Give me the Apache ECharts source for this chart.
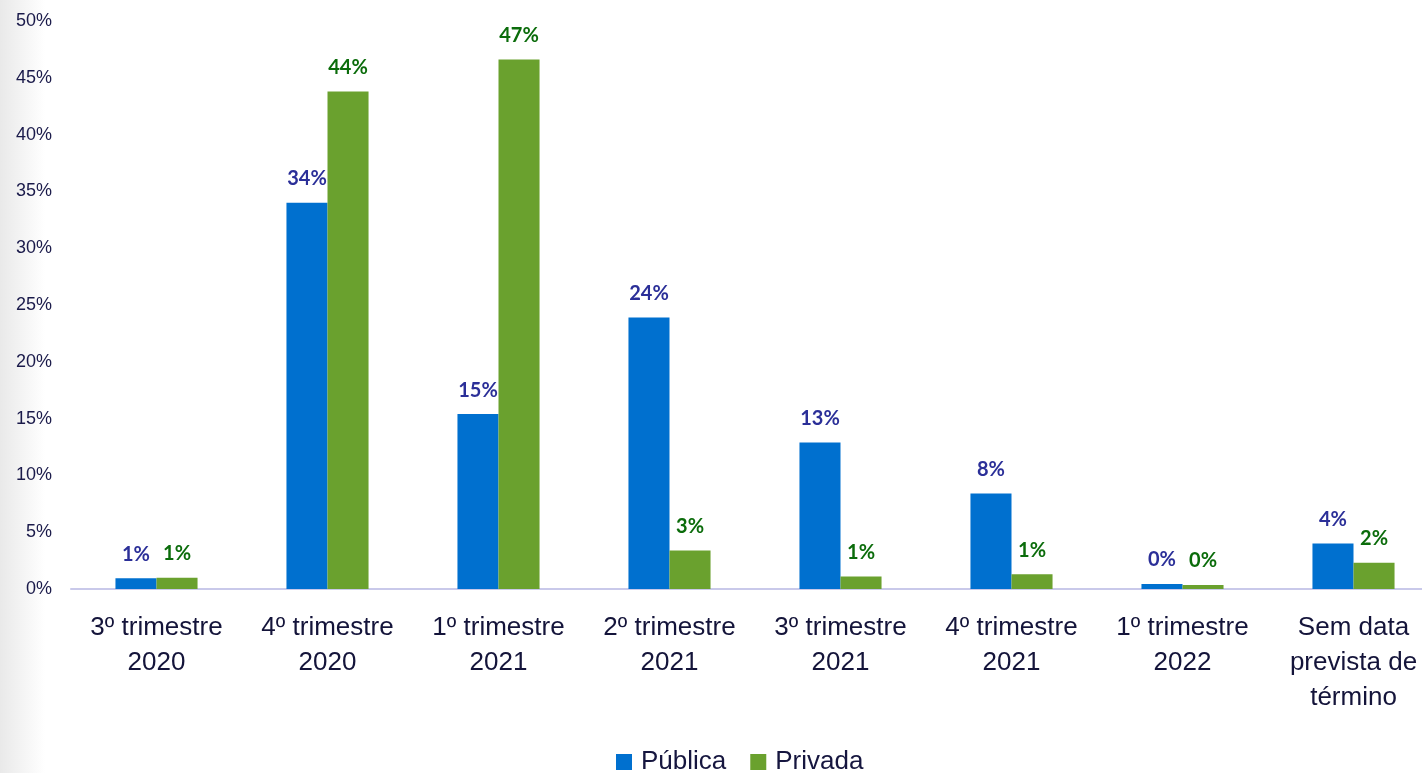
<!DOCTYPE html>
<html>
<head>
<meta charset="utf-8">
<script src="https://cdn.jsdelivr.net/npm/echarts@6/dist/echarts.min.js"></script>
<style>
html,body{margin:0;padding:0;background:#fff;overflow:hidden;}
#chart{width:1440px;height:773px;}
</style>
</head>
<body>
<div id="chart"></div>
<script>
const categories = ["3º trimestre\n2020","4º trimestre\n2020","1º trimestre\n2021","2º trimestre\n2021","3º trimestre\n2021","4º trimestre\n2021","1º trimestre\n2022","Sem data\nprevista de\ntérmino"];
const publica = [0.95, 34.0, 15.4, 23.9, 12.9, 8.4, 0.45, 4.0];
const privada = [1.0, 43.8, 46.6, 3.4, 1.1, 1.3, 0.35, 2.3];
const publicaLabels = ["1%","34%","15%","24%","13%","8%","0%","4%"];
const privadaLabels = ["1%","44%","47%","3%","1%","1%","0%","2%"];

const chart = echarts.init(document.getElementById('chart'));
chart.setOption({
  backgroundColor: '#ffffff',
  animation: false,
  graphic: [{
    type: 'rect', left: 0, top: 0, z: -10,
    shape: {width: 45, height: 773},
    style: {fill: new echarts.graphic.LinearGradient(0,0,1,0,[{offset:0,color:'#e9e9e9'},{offset:1,color:'#ffffff'}])}
  }],
  grid: {left: 71, top: 21, width: 1368, height: 568, containLabel: false},
  legend: {
    top: 744, left: 611,
    itemWidth: 16, itemHeight: 16, itemGap: 24,
    icon: 'rect',
    textStyle: {fontSize: 26, color: '#16163f', fontFamily: 'Liberation Sans', padding: [0,0,0,4]},
    data: ['Pública','Privada']
  },
  xAxis: {
    type: 'category',
    data: categories,
    axisLine: {lineStyle: {color: '#c9c9ea', width: 2}},
    axisTick: {show: false},
    axisLabel: {fontSize: 26, lineHeight: 35, margin: 21, color: '#14143a', fontFamily: 'Liberation Sans', interval: 0}
  },
  yAxis: {
    type: 'value', min: 0, max: 50, interval: 5,
    axisLine: {show: false},
    axisTick: {show: false},
    splitLine: {show: false},
    axisLabel: {formatter: '{value}%', fontSize: 18, margin: 19, color: '#1a1a4a', fontFamily: 'Liberation Sans'}
  },
  series: [
    {
      name: 'Pública', type: 'bar', data: publica,
      barWidth: '24%', barGap: '0%',
      itemStyle: {color: '#0070cf'},
      label: {show: true, position: 'top', distance: 14, fontSize: 20, fontWeight: 'bold', color: '#2b2f98', fontFamily: 'Lato',
        formatter: p => publicaLabels[p.dataIndex]}
    },
    {
      name: 'Privada', type: 'bar', data: privada,
      barWidth: '24%',
      itemStyle: {color: '#6aa12e'},
      label: {show: true, position: 'top', distance: 14, fontSize: 20, fontWeight: 'bold', color: '#0b6c0b', fontFamily: 'Lato',
        formatter: p => privadaLabels[p.dataIndex]}
    }
  ]
});
</script>
</body>
</html>
